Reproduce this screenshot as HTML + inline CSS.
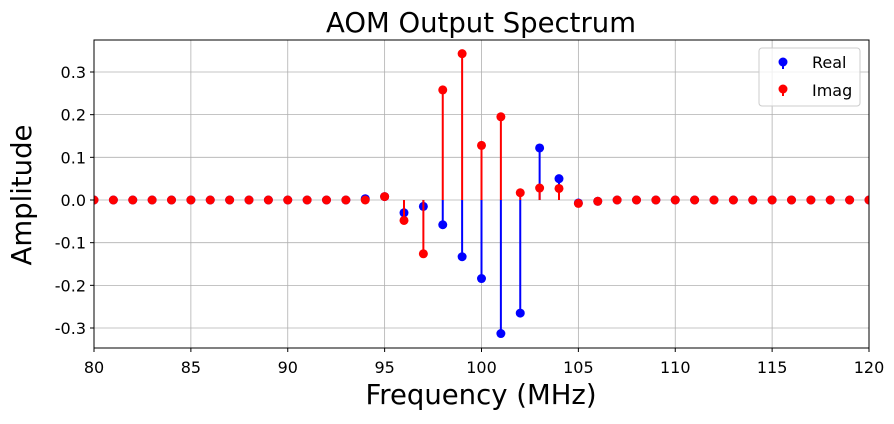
<!DOCTYPE html>
<html><head><meta charset="utf-8"><style>
body{margin:0;background:#fff;font-family:"Liberation Sans","DejaVu Sans",sans-serif}
svg text{font-family:"DejaVu Sans","Liberation Sans",sans-serif}
</style></head><body>
<svg id="chart" width="894" height="419" xmlns="http://www.w3.org/2000/svg">
<defs><clipPath id="clip"><rect x="94" y="40" width="775" height="308"/></clipPath></defs>
<text x="481" y="32" font-size="27.5" text-anchor="middle">AOM Output Spectrum</text>
<text x="481" y="404" font-size="27.5" text-anchor="middle">Frequency (MHz)</text>
<text transform="translate(31,195) rotate(-90)" font-size="27.5" text-anchor="middle">Amplitude</text>
<g id="grid"></g>
<g id="marks" clip-path="url(#clip)"></g>
<rect x="94" y="40" width="775" height="308" fill="none" stroke="#000" stroke-width="1"/>
<g id="ticks"></g>
<g>
<rect x="759" y="48" width="101" height="58" rx="3" fill="#fff" fill-opacity="0.8" stroke="#ccc"/>
<g><line x1="783" y1="62" x2="783" y2="69" stroke="#00f" stroke-width="2"/><circle cx="783" cy="62" r="4.5" fill="#00f"/><text x="812" y="68" font-size="16">Real</text></g>
<g><line x1="783" y1="89" x2="783" y2="96" stroke="#f00" stroke-width="2"/><circle cx="783" cy="89" r="4.5" fill="#f00"/><text x="812" y="96" font-size="16">Imag</text></g>
</g>
</svg>
<script>
const freqs=[80,81,82,83,84,85,86,87,88,89,90,91,92,93,94,95,96,97,98,99,100,101,102,103,104,105,106,107,108,109,110,111,112,113,114,115,116,117,118,119,120];
const realVals=[0,0,0,0,0,0,0,0,0,0,0,0,0,0,0.003,0.008,-0.03,-0.015,-0.058,-0.133,-0.184,-0.313,-0.265,0.122,0.05,-0.007,-0.003,0,0,0,0,0,0,0,0,0,0,0,0,0,0];
const imagVals=[0,0,0,0,0,0,0,0,0,0,0,0,0,0,0,0.008,-0.048,-0.126,0.258,0.343,0.128,0.195,0.017,0.028,0.027,-0.008,-0.003,0,0,0,0,0,0,0,0,0,0,0,0,0,0];
const xTicks=[80,85,90,95,100,105,110,115,120];
const yTicks=[-0.3,-0.2,-0.1,0.0,0.1,0.2,0.3];
const X0=94,X1=869,Y0=40,Y1=348,XMIN=80,XMAX=120;
const sx=v=>X0+(v-XMIN)/(XMAX-XMIN)*(X1-X0);
const sy=v=>200-v*426.7;
const NS="http://www.w3.org/2000/svg";
function mk(tag,attrs,parent){const e=document.createElementNS(NS,tag);for(const k in attrs)e.setAttribute(k,attrs[k]);parent.appendChild(e);return e;}
const grid=document.getElementById('grid'),ticks=document.getElementById('ticks'),marks=document.getElementById('marks');
xTicks.forEach(t=>{const x=sx(t);
 const g=mk('line',{x1:x,y1:Y0,x2:x,y2:Y1,stroke:'#b0b0b0','stroke-width':0.8},grid);
 
 
 mk('line',{x1:x,y1:Y1,x2:x,y2:Y1+4,stroke:'#000'},ticks);
 const tx=mk('text',{x:x,y:Y1+25,'font-size':16,'text-anchor':'middle'},ticks);tx.textContent=t;
 
 
});
yTicks.forEach(t=>{const y=sy(t);
 const g=mk('line',{x1:X0,y1:y,x2:X1,y2:y,stroke:'#b0b0b0','stroke-width':0.8},grid);
 
 
 mk('line',{x1:X0-4,y1:y,x2:X0,y2:y,stroke:'#000'},ticks);
 const tx=mk('text',{x:X0-8,y:y+6,'font-size':16,'text-anchor':'end'},ticks);tx.textContent=t.toFixed(1);
 
 
});
function series(vals,color,name){
 vals.forEach((v,i)=>{const x=sx(freqs[i]);
  const l=mk('line',{x1:x,y1:sy(0),x2:x,y2:sy(v),stroke:color,'stroke-width':2},marks);
  
  
 });
 vals.forEach((v,i)=>{const x=sx(freqs[i]);
  const c=mk('circle',{cx:x,cy:sy(v),r:4.5,fill:color},marks);
  
  
 });
}
series(realVals,'#0000ff','real');
series(imagVals,'#ff0000','imag');
</script>
</body></html>
